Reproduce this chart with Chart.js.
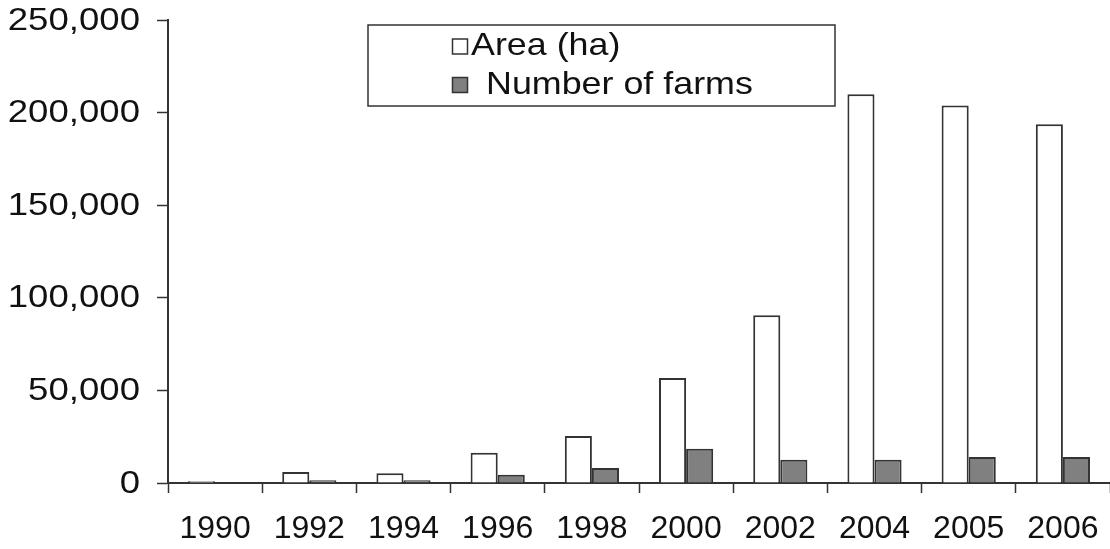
<!DOCTYPE html>
<html>
<head>
<meta charset="utf-8">
<script src="https://cdn.jsdelivr.net/npm/chart.js@4.4.1/dist/chart.umd.min.js"></script>
<style>
  html, body { margin: 0; padding: 0; background: #fff; }
  #wrap { width: 1110px; height: 549px; }
</style>
</head>
<body>
<div id="wrap"><canvas id="grafico" width="1110" height="549"></canvas></div>
<script>
const anos = ['1990', '1992', '1994', '1996', '1998', '2000', '2002', '2004', '2005', '2006'];
const areaHa = [1000, 6000, 5200, 16400, 25400, 56700, 90600, 209900, 203900, 193700];
const numFazendas = [0, 1450, 1450, 4500, 8100, 18500, 12600, 12600, 14000, 14000];
const ticksY = [0, 50000, 100000, 150000, 200000, 250000];

const corLinha = '#333333';
const fonte = '"Liberation Sans", Arial, sans-serif';

// Rótulos do eixo Y desenhados à mão (fonte um pouco alargada)
const rotulosY = {
    id: 'rotulosY',
    afterDraw(chart) {
        const ctx = chart.ctx;
        const y = chart.scales.y;
        ctx.save();
        ctx.fillStyle = '#111';
        ctx.font = '31px ' + fonte;
        ctx.textAlign = 'right';
        ctx.textBaseline = 'middle';
        y.ticks.forEach(t => {
            const py = y.getPixelForValue(t.value);
            ctx.save();
            ctx.translate(y.right - 28, py);
            ctx.scale(1.18, 1);
            ctx.fillText(t.value.toLocaleString('en-US'), 0, 1);
            ctx.restore();
        });
        ctx.restore();
    }
};

// Legenda com moldura, desenhada à mão
const legendaCaixa = {
    id: 'legendaCaixa',
    afterDraw(chart) {
        const ctx = chart.ctx;
        const x0 = 368, y0 = 25, w = 467, h = 81;
        ctx.save();
        ctx.strokeStyle = corLinha;
        ctx.lineWidth = 1.5;
        ctx.strokeRect(x0, y0, w, h);

        const linhas = [
            { y: 46.5, txtX: 471 },
            { y: 85, txtX: 486 }
        ];
        chart.data.datasets.forEach((ds, i) => {
            const l = linhas[i];
            ctx.fillStyle = ds.backgroundColor;
            ctx.fillRect(452.5, l.y - 7.5, 15, 15);
            ctx.strokeStyle = corLinha;
            ctx.lineWidth = 1.5;
            ctx.strokeRect(452.5, l.y - 7.5, 15, 15);

            ctx.fillStyle = '#111';
            ctx.font = '32px ' + fonte;
            ctx.textBaseline = 'middle';
            ctx.textAlign = 'left';
            ctx.save();
            ctx.translate(l.txtX, l.y);
            ctx.scale(1.12, 1);
            ctx.fillText(ds.label, 0, 0);
            ctx.restore();
        });
        ctx.restore();
    }
};

new Chart(document.getElementById('grafico'), {
    type: 'bar',
    data: {
        labels: anos,
        datasets: [
            {
                label: 'Area (ha)',
                data: areaHa,
                backgroundColor: '#ffffff',
                borderColor: corLinha,
                borderWidth: 2
            },
            {
                label: 'Number of farms',
                data: numFazendas,
                backgroundColor: '#808080',
                borderColor: corLinha,
                borderWidth: 2
            }
        ]
    },
    options: {
        responsive: false,
        animation: false,
        events: [],
        // o eixo X continua um pouco além da borda direita
        layout: { padding: { top: 20, right: -3, left: 0, bottom: 0 } },
        datasets: { bar: { categoryPercentage: 0.575, barPercentage: 1.0 } },
        plugins: {
            legend: { display: false },
            tooltip: { enabled: false }
        },
        scales: {
            x: {
                offset: true,
                grid: {
                    offset: true,
                    drawOnChartArea: false,
                    drawTicks: true,
                    tickLength: 10,
                    tickWidth: 1.5,
                    tickColor: corLinha
                },
                border: { color: corLinha, width: 2 },
                ticks: {
                    color: '#111',
                    font: { family: fonte, size: 32 },
                    padding: 17,
                    maxRotation: 0,
                    autoSkip: false
                },
                afterFit(scale) {
                    scale.height = 66;
                    scale.paddingLeft = 0;
                    scale.paddingRight = 0;
                }
            },
            y: {
                min: 0,
                max: 250000,
                afterBuildTicks(scale) { scale.ticks = ticksY.map(v => ({ value: v })); },
                grid: {
                    drawOnChartArea: false,
                    drawTicks: true,
                    tickLength: 11,
                    tickWidth: 1.5,
                    tickColor: corLinha
                },
                border: { color: corLinha, width: 2 },
                ticks: { display: false },
                afterFit(scale) { scale.width = 168; }
            }
        }
    },
    plugins: [rotulosY, legendaCaixa]
});
</script>
</body>
</html>
